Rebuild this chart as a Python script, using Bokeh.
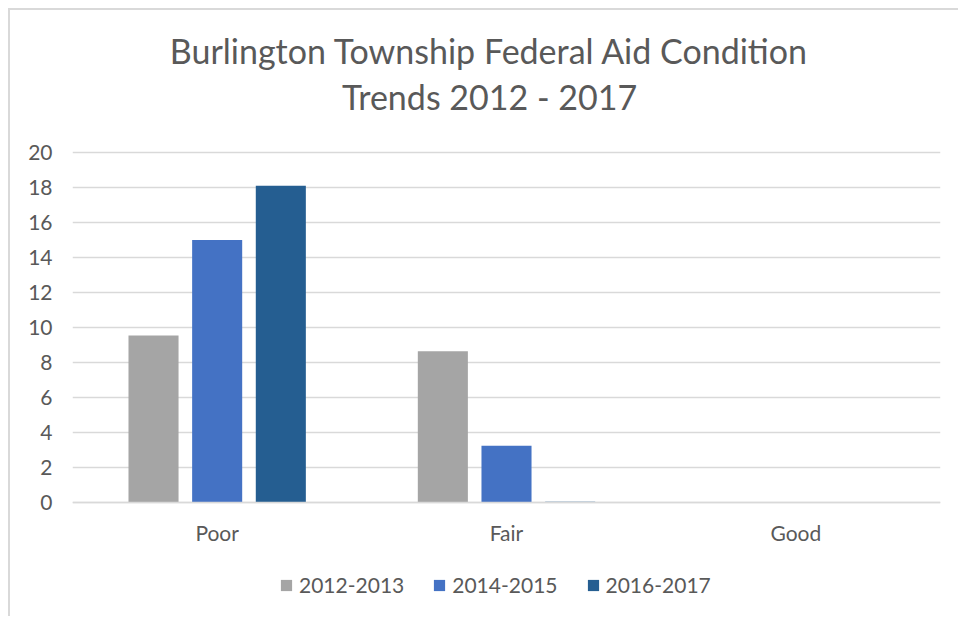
from bokeh.plotting import figure
from bokeh.models import FactorRange, Range1d, ColumnDataSource, Legend, LegendItem, Label, FixedTicker
from bokeh.layouts import column
from bokeh.transform import dodge
from bokeh.embed import file_html
from bokeh.resources import INLINE

categories = ["Poor", "Fair", "Good"]
series = ["2012-2013", "2014-2015", "2016-2017"]
v_2012_2013 = [9.55, 8.65, 0.0]
v_2014_2015 = [15.0, 3.25, 0.0]
v_2016_2017 = [18.1, 0.05, 0.0]
colors = ["#a5a5a5", "#4472c4", "#255e91"]
y_ticks = [0, 2, 4, 6, 8, 10, 12, 14, 16, 18, 20]
title_lines = ["Burlington Township Federal Aid Condition", "Trends 2012 - 2017"]

FONT = "Lato"
TXT = "#595959"

src = ColumnDataSource(dict(cat=categories, a=v_2012_2013, b=v_2014_2015, c=v_2016_2017))

p = figure(x_range=FactorRange(*categories, range_padding=0), y_range=Range1d(-6.514, 28.114),
           frame_width=868, frame_height=606, output_backend="svg", toolbar_location=None,
           min_border_left=62, min_border_right=18, min_border_top=0, min_border_bottom=0)
p.title = None

for txt, yy in zip(title_lines, [566, 520]):
    p.add_layout(Label(x=417, y=yy, x_units="screen", y_units="screen", text=txt,
                       text_align="center", text_baseline="middle", text_font=FONT,
                       text_font_size="34px", text_color=TXT))

W = 0.173
renderers = []
for key, off, col in zip(["a", "b", "c"], [-0.22, 0.0, 0.22], colors):
    r = p.vbar(x=dodge("cat", off, range=p.x_range), top=key, width=W, source=src,
               fill_color=col, line_color=None)
    renderers.append(r)

p.outline_line_color = None
p.background_fill_color = "white"
p.border_fill_color = "white"
p.xgrid.grid_line_color = None
p.ygrid.grid_line_color = "#d9d9d9"
p.ygrid.grid_line_width = 1.5
p.yaxis.ticker = FixedTicker(ticks=y_ticks)
p.yaxis.axis_line_color = None
p.yaxis.major_tick_line_color = None
p.yaxis.minor_tick_line_color = None
p.yaxis.major_label_text_font = FONT
p.yaxis.major_label_text_font_size = "21px"
p.yaxis.major_label_text_color = TXT
p.yaxis.major_label_standoff = 14
p.xaxis.fixed_location = 0
p.xaxis.axis_line_color = "#d9d9d9"
p.xaxis.axis_line_width = 1.5
p.xaxis.major_tick_line_color = None
p.xaxis.major_label_text_font = FONT
p.xaxis.major_label_text_font_size = "21px"
p.xaxis.major_label_text_color = TXT
p.xaxis.major_label_standoff = 11

legend = Legend(items=[LegendItem(label=s, renderers=[r]) for s, r in zip(series, renderers)],
                orientation="horizontal", location=(207, 19), label_text_font=FONT,
                label_text_font_size="21px", label_text_color=TXT, glyph_width=14, glyph_height=14,
                spacing=28, label_standoff=6, border_line_color=None, background_fill_alpha=0,
                margin=0, padding=0)
p.add_layout(legend, "center")

layout = column(p, margin=(8, 0, 0, 8),
                styles={"border-left": "2px solid #d9d9d9", "border-top": "2px solid #d9d9d9"})

open("out.html", "w").write(file_html(layout, INLINE))
